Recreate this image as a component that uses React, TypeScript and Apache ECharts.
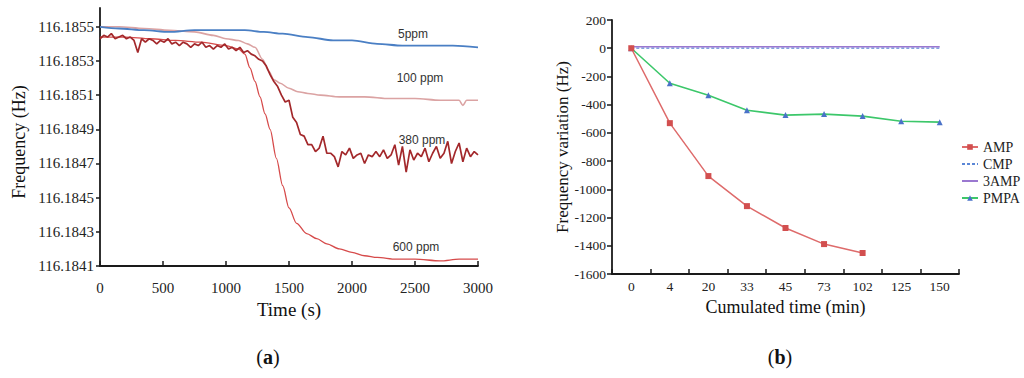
import React, { useEffect, useRef } from "react";
import * as echarts from "echarts";

// ---------- Panel (a): frequency vs time ----------
const T_5PPM = [0, 150, 350, 550, 750, 900, 1000, 1150, 1300, 1450, 1650, 1850, 2000, 2200, 2400, 2600, 2800, 3000];
const F_5PPM = [116.1855, 116.18549, 116.18548, 116.18547, 116.18548, 116.18548, 116.18548, 116.18548, 116.18547, 116.18546, 116.18544, 116.18542, 116.18542, 116.1854, 116.18539, 116.18539, 116.18539, 116.18538];

const T_100PPM = [0, 150, 350, 550, 750, 900, 1000, 1100, 1170, 1230, 1290, 1340, 1380, 1430, 1500, 1570, 1650, 1750, 1900, 2100, 2300, 2500, 2700, 2850, 2880, 2910, 3000];
const F_100PPM = [116.1855, 116.1855, 116.18549, 116.18548, 116.18547, 116.18545, 116.18543, 116.18542, 116.1854, 116.18538, 116.18531, 116.18524, 116.18519, 116.18517, 116.18514, 116.18512, 116.18511, 116.1851, 116.18509, 116.18509, 116.18508, 116.18508, 116.18507, 116.18507, 116.18504, 116.18507, 116.18507];

const T_600PPM = [0, 200, 400, 600, 800, 1000, 1100, 1150, 1190, 1230, 1270, 1310, 1350, 1400, 1450, 1500, 1560, 1640, 1720, 1800, 1900, 2000, 2100, 2200, 2350, 2500, 2700, 2850, 3000];
const F_600PPM = [116.18544, 116.18544, 116.18543, 116.18542, 116.18541, 116.18539, 116.18537, 116.18534, 116.18526, 116.18518, 116.18509, 116.18499, 116.1849, 116.18473, 116.18457, 116.18444, 116.18435, 116.18429, 116.18426, 116.18423, 116.1842, 116.18418, 116.18416, 116.18415, 116.18414, 116.18414, 116.18413, 116.18414, 116.18414];

const T_380PPM = [
  0, 30, 60, 90, 120, 150, 180, 210, 240, 270, 300, 330, 360, 390, 420, 450, 480, 510, 540, 570,
  600, 630, 660, 690, 720, 750, 780, 810, 840, 870, 900, 930, 960, 990, 1020, 1050, 1080, 1110, 1140, 1170,
  1200, 1230, 1260, 1290, 1320, 1350, 1380, 1410, 1440, 1470, 1500, 1530, 1560, 1590, 1620, 1650, 1680, 1710, 1740, 1770,
  1800, 1830, 1860, 1890, 1920, 1950, 1980, 2010, 2040, 2070, 2100, 2130, 2160, 2190, 2220, 2250, 2280, 2310, 2340, 2370,
  2400, 2430, 2460, 2490, 2520, 2550, 2580, 2610, 2640, 2670, 2700, 2730, 2760, 2790, 2820, 2850, 2880, 2910, 2940, 2970,
  3000,
];
const F_380PPM = [
  116.18543, 116.18545, 116.18544, 116.18546, 116.18543, 116.18544, 116.18545, 116.18543, 116.18544, 116.18542,
  116.18535, 116.18543, 116.18541, 116.18543, 116.18542, 116.1854, 116.18542, 116.18541, 116.18543, 116.1854,
  116.18541, 116.18539, 116.18541, 116.1854, 116.18538, 116.1854, 116.18539, 116.18541, 116.18538, 116.18539,
  116.18537, 116.18539, 116.18538, 116.1854, 116.18537, 116.18538, 116.18536, 116.18538, 116.18535, 116.18536,
  116.18534, 116.18533, 116.18531, 116.1853, 116.18527, 116.18522, 116.18518, 116.18515, 116.1851, 116.18506,
  116.18507, 116.18497, 116.18494, 116.18487, 116.18486, 116.18481, 116.18481, 116.18477, 116.18479, 116.18486,
  116.18476, 116.18476, 116.18474, 116.18468, 116.18477, 116.18475, 116.18479, 116.18473, 116.18475, 116.18476,
  116.1847, 116.18475, 116.18474, 116.18477, 116.18474, 116.18478, 116.18473, 116.18475, 116.18481, 116.18469,
  116.1848, 116.18465, 116.18478, 116.18472, 116.18476, 116.18474, 116.18479, 116.18471, 116.18476, 116.1848,
  116.18473, 116.18476, 116.18483, 116.1847, 116.18477, 116.18482, 116.18471, 116.18479, 116.18474, 116.18477,
  116.18475,
];

const FREQ_TICKS = [116.1841, 116.1843, 116.1845, 116.1847, 116.1849, 116.1851, 116.1853, 116.1855];

// ---------- Panel (b): frequency variation vs cumulated time ----------
const CUM_TIME = ["0", "4", "20", "33", "45", "73", "102", "125", "150"];
const AMP = [0, -531, -906, -1119, -1274, -1388, -1451];
const CMP = [0, 0, 0, 0, 0, 0, 0, 0, 0];
const AMP3 = [10, 10, 10, 10, 10, 10, 10, 10, 10];
const PMPA = [0, -248, -333, -439, -474, -467, -481, -517, -524];

const zip = (t: number[], v: number[]) => t.map((x, i) => [x, v[i]]);

const SERIF = "'Liberation Serif', 'DejaVu Serif', serif";
const SANS = "'Liberation Sans', Arial, sans-serif";

export default function App() {
  const ref = useRef<HTMLDivElement>(null);

  useEffect(() => {
    if (!ref.current) return;
    const chart = echarts.init(ref.current, undefined, { renderer: "svg" });
    const axisLine = { show: true, onZero: false, lineStyle: { color: "#1a1a1a", width: 1.8 } };
    const tickStyle = { color: "#1a1a1a", width: 1.5 };

    chart.setOption({
      animation: false,
      backgroundColor: "#ffffff",
      grid: [
        { left: 100, right: 546, top: 8, bottom: 112 },
        { left: 612, right: 65, top: 20, bottom: 104 },
      ],
      legend: {
        data: [
          { name: "AMP" },
          { name: "CMP", itemStyle: { opacity: 0 } },
          { name: "3AMP", itemStyle: { opacity: 0 } },
          { name: "PMPA" },
        ],
        orient: "vertical",
        left: 956,
        top: 135,
        itemWidth: 16,
        itemHeight: 7,
        itemGap: 3,
        textStyle: { fontFamily: SERIF, fontSize: 14, color: "#222" },
      },
      xAxis: [
        {
          type: "value",
          gridIndex: 0,
          min: 0,
          max: 3000,
          interval: 500,
          axisLine,
          axisTick: { show: true, inside: true, length: 5, lineStyle: tickStyle },
          axisLabel: { fontFamily: SERIF, fontSize: 15, color: "#222", margin: 14, formatter: (v: number) => String(v) },
          splitLine: { show: false },
          name: "Time (s)",
          nameLocation: "middle",
          nameGap: 27,
          nameTextStyle: { fontFamily: SERIF, fontSize: 19, color: "#111" },
        },
        {
          type: "category",
          gridIndex: 1,
          data: CUM_TIME,
          boundaryGap: true,
          axisLine,
          axisTick: { show: true, inside: true, length: 5, alignWithLabel: false, lineStyle: tickStyle },
          axisLabel: { fontFamily: SERIF, fontSize: 13.5, color: "#222", margin: 5 },
          splitLine: { show: false },
          name: "Cumulated time (min)",
          nameLocation: "middle",
          nameGap: 20,
          nameTextStyle: { fontFamily: SERIF, fontSize: 18, color: "#111" },
        },
      ],
      yAxis: [
        {
          type: "value",
          gridIndex: 0,
          min: 116.1841,
          max: 116.18561,
          scale: true,
          axisLine,
          axisTick: { show: true, inside: false, length: 4, customValues: FREQ_TICKS, lineStyle: tickStyle },
          axisLabel: {
            customValues: FREQ_TICKS,
            fontFamily: SERIF,
            fontSize: 15,
            color: "#222",
            margin: 6,
            formatter: (v: number) => v.toFixed(4),
          },
          splitLine: { show: false },
          name: "Frequency (Hz)",
          nameLocation: "middle",
          nameGap: 72,
          nameRotate: 90,
          nameTextStyle: { fontFamily: SERIF, fontSize: 18, color: "#111", padding: [0, 10, 0, 0] },
        },
        {
          type: "value",
          gridIndex: 1,
          min: -1600,
          max: 200,
          interval: 200,
          axisLine,
          axisTick: { show: true, inside: false, length: 5, lineStyle: tickStyle },
          axisLabel: { fontFamily: SERIF, fontSize: 13.5, color: "#222", margin: 6, formatter: (v: number) => String(v) },
          splitLine: { show: false },
          name: "Frequency variation (Hz)",
          nameLocation: "middle",
          nameGap: 40,
          nameRotate: 90,
          nameTextStyle: { fontFamily: SERIF, fontSize: 17, color: "#111" },
        },
      ],
      series: [
        {
          name: "100 ppm", type: "line", xAxisIndex: 0, yAxisIndex: 0,
          data: zip(T_100PPM, F_100PPM), symbol: "none", smooth: 0.3, smoothMonotone: "x",
          lineStyle: { color: "#dba3a3", width: 1.6 }, z: 2,
        },
        {
          name: "600 ppm", type: "line", xAxisIndex: 0, yAxisIndex: 0,
          data: zip(T_600PPM, F_600PPM), symbol: "none", smooth: 0.3, smoothMonotone: "x",
          lineStyle: { color: "#d64a4a", width: 1.3 }, z: 3,
        },
        {
          name: "380 ppm", type: "line", xAxisIndex: 0, yAxisIndex: 0,
          data: zip(T_380PPM, F_380PPM), symbol: "none",
          lineStyle: { color: "#a3282b", width: 1.7 }, z: 4,
        },
        {
          name: "5ppm", type: "line", xAxisIndex: 0, yAxisIndex: 0,
          data: zip(T_5PPM, F_5PPM), symbol: "none", smooth: 0.3, smoothMonotone: "x",
          lineStyle: { color: "#4a7fc4", width: 1.8 }, z: 5,
        },
        {
          name: "PMPA", type: "line", xAxisIndex: 1, yAxisIndex: 1, data: PMPA,
          symbol: "triangle", symbolSize: 6, itemStyle: { color: "#4a72c8" },
          lineStyle: { color: "#3cc76a", width: 1.6 }, z: 2,
        },
        {
          name: "CMP", type: "line", xAxisIndex: 1, yAxisIndex: 1, data: CMP,
          symbol: "none", itemStyle: { color: "#5b87d6" },
          lineStyle: { color: "#5b87d6", width: 1.3, type: [3, 2] }, z: 3,
        },
        {
          name: "3AMP", type: "line", xAxisIndex: 1, yAxisIndex: 1, data: AMP3,
          symbol: "none", itemStyle: { color: "#9a78d0" },
          lineStyle: { color: "#9a78d0", width: 1.5 }, z: 3,
        },
        {
          name: "AMP", type: "line", xAxisIndex: 1, yAxisIndex: 1, data: AMP,
          symbol: "rect", symbolSize: 6, itemStyle: { color: "#d24f4f" },
          lineStyle: { color: "#de6b6b", width: 1.5 }, z: 4,
        },
      ],
      graphic: [
        { type: "text", x: 413, y: 34, style: { text: "5ppm", font: `12px ${SANS}`, fill: "#333", align: "center", verticalAlign: "middle" } },
        { type: "text", x: 420, y: 78, style: { text: "100 ppm", font: `12px ${SANS}`, fill: "#333", align: "center", verticalAlign: "middle" } },
        { type: "text", x: 422, y: 140, style: { text: "380 ppm", font: `12px ${SANS}`, fill: "#333", align: "center", verticalAlign: "middle" } },
        { type: "text", x: 416, y: 247, style: { text: "600 ppm", font: `12px ${SANS}`, fill: "#333", align: "center", verticalAlign: "middle" } },
        {
          type: "text", x: 268, y: 357,
          style: {
            text: "{n|(}{b|a}{n|)}", align: "center", verticalAlign: "middle",
            rich: {
              n: { fontFamily: SERIF, fontSize: 20, fill: "#111" },
              b: { fontFamily: SERIF, fontSize: 20, fontWeight: "bold", fill: "#111" },
            },
          },
        },
        {
          type: "text", x: 780, y: 357,
          style: {
            text: "{n|(}{b|b}{n|)}", align: "center", verticalAlign: "middle",
            rich: {
              n: { fontFamily: SERIF, fontSize: 20, fill: "#111" },
              b: { fontFamily: SERIF, fontSize: 20, fontWeight: "bold", fill: "#111" },
            },
          },
        },
      ],
    });

    return () => chart.dispose();
  }, []);

  return (
    <div
      ref={ref}
      style={{ position: "fixed", left: 0, top: 0, width: 1024, height: 378, background: "#fff" }}
    />
  );
}
